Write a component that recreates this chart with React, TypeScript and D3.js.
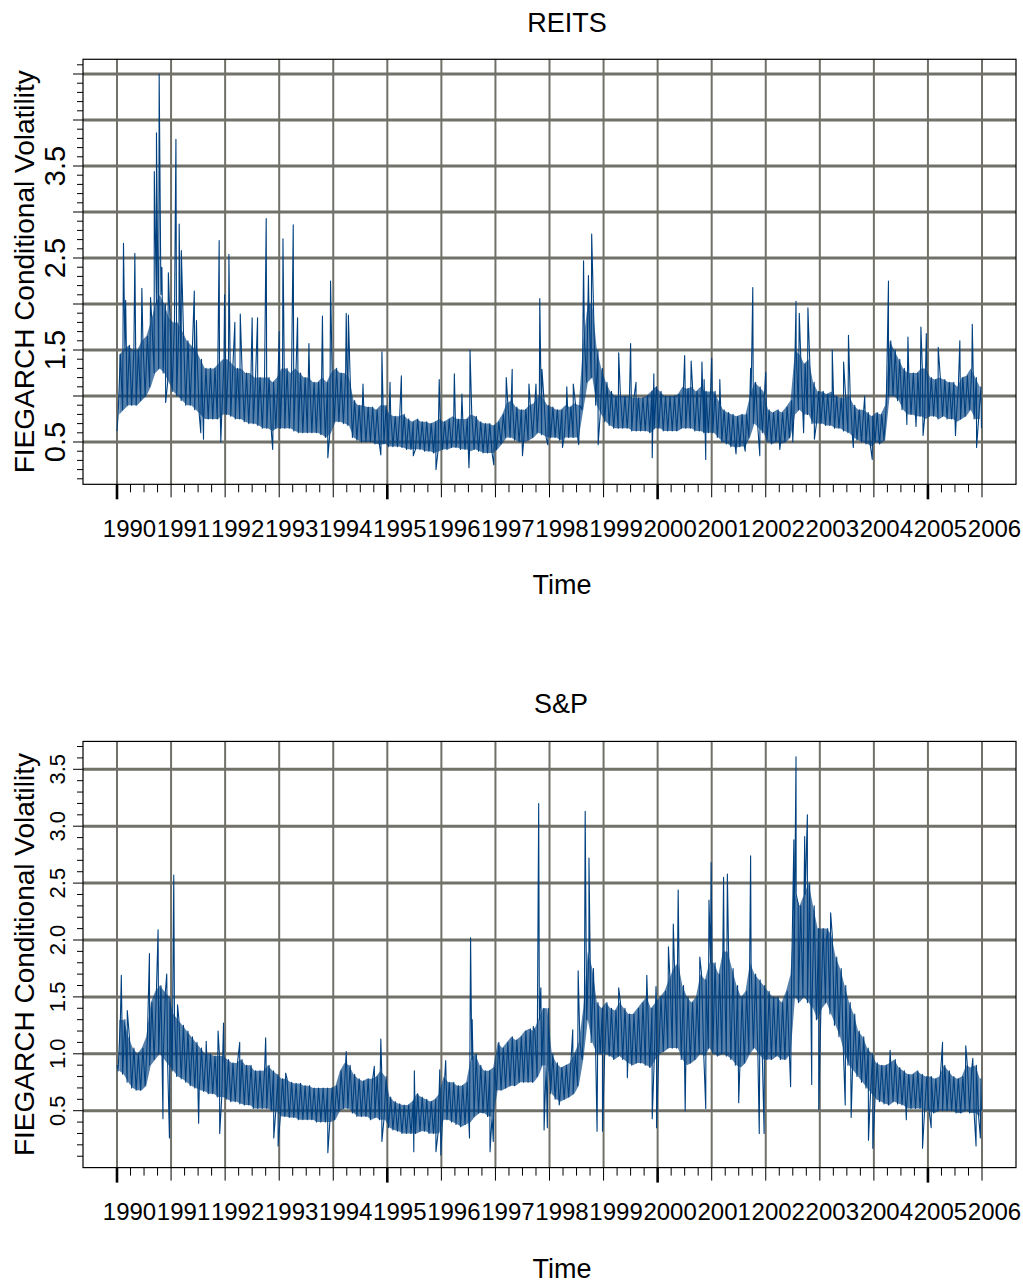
import React from 'react'
import * as d3 from 'd3'

// year tick labels on the time axis
const yearTicks = d3.range(1990, 2007)

// REITS: monthly band (low / high), one row per year 1990..2005
const reitsLo = [
  [0.8, 0.85, 0.9, 0.9, 0.9, 0.95, 1.0, 1.1, 1.25, 1.3, 1.25, 1.15],
  [1.05, 1.0, 0.95, 0.9, 0.9, 0.85, 0.8, 0.75, 0.75, 0.75, 0.75, 0.8],
  [0.8, 0.78, 0.75, 0.75, 0.72, 0.7, 0.7, 0.68, 0.65, 0.65, 0.62, 0.65],
  [0.65, 0.65, 0.65, 0.62, 0.6, 0.6, 0.6, 0.6, 0.6, 0.58, 0.55, 0.6],
  [0.72, 0.72, 0.7, 0.68, 0.55, 0.52, 0.5, 0.5, 0.5, 0.48, 0.47, 0.48],
  [0.45, 0.45, 0.45, 0.44, 0.42, 0.42, 0.42, 0.42, 0.4, 0.4, 0.38, 0.4],
  [0.42, 0.42, 0.44, 0.44, 0.42, 0.42, 0.4, 0.42, 0.4, 0.38, 0.38, 0.38],
  [0.42, 0.48, 0.55, 0.55, 0.52, 0.5, 0.5, 0.52, 0.55, 0.6, 0.58, 0.55],
  [0.55, 0.55, 0.52, 0.55, 0.55, 0.55, 0.55, 0.85, 1.15, 1.2, 0.9, 0.8],
  [0.72, 0.68, 0.65, 0.65, 0.65, 0.65, 0.62, 0.62, 0.62, 0.62, 0.6, 0.65],
  [0.65, 0.62, 0.62, 0.62, 0.62, 0.65, 0.65, 0.65, 0.62, 0.62, 0.6, 0.6],
  [0.6, 0.55, 0.5, 0.48, 0.45, 0.44, 0.45, 0.45, 0.55, 0.7, 0.65, 0.6],
  [0.5, 0.48, 0.5, 0.48, 0.5, 0.55, 0.8, 0.85, 0.8, 0.8, 0.7, 0.7],
  [0.7, 0.68, 0.68, 0.65, 0.65, 0.62, 0.6, 0.55, 0.52, 0.5, 0.48, 0.45],
  [0.5, 0.48, 0.52, 1.0, 1.0, 0.95, 0.85, 0.8, 0.8, 0.78, 0.78, 0.75],
  [0.78, 0.78, 0.75, 0.78, 0.75, 0.75, 0.72, 0.75, 0.78, 0.85, 0.75, 0.75],
]
const reitsHi = [
  [1.45, 1.5, 1.55, 1.5, 1.5, 1.6, 1.65, 1.8, 2.0, 2.1, 2.0, 1.85],
  [1.8, 1.8, 1.7, 1.6, 1.55, 1.5, 1.4, 1.3, 1.3, 1.3, 1.35, 1.4],
  [1.4, 1.35, 1.3, 1.3, 1.25, 1.25, 1.2, 1.2, 1.2, 1.2, 1.15, 1.2],
  [1.3, 1.3, 1.25, 1.3, 1.25, 1.2, 1.2, 1.15, 1.15, 1.2, 1.15, 1.25],
  [1.3, 1.25, 1.25, 1.2, 0.95, 0.9, 0.9, 0.88, 0.88, 0.85, 0.9, 0.9],
  [0.8, 0.78, 0.78, 0.8, 0.75, 0.72, 0.75, 0.72, 0.72, 0.7, 0.72, 0.75],
  [0.72, 0.75, 0.78, 0.75, 0.75, 0.75, 0.8, 0.78, 0.72, 0.7, 0.7, 0.68],
  [0.72, 0.8, 0.92, 0.95, 0.88, 0.85, 0.85, 0.9, 0.92, 1.0, 0.98, 0.9],
  [0.88, 0.85, 0.85, 0.9, 0.88, 0.92, 0.9, 1.6, 2.0, 2.0, 1.5, 1.3],
  [1.15, 1.05, 1.0, 1.0, 1.0, 1.0, 0.98, 0.98, 0.98, 1.0, 1.05, 1.1],
  [1.05, 1.0, 1.0, 1.0, 1.02, 1.1, 1.08, 1.1, 1.05, 1.1, 1.05, 1.05],
  [1.05, 0.95, 0.85, 0.82, 0.8, 0.78, 0.8, 0.8, 1.0, 1.15, 1.1, 1.05],
  [0.85, 0.82, 0.85, 0.82, 0.88, 0.95, 1.5, 1.45, 1.35, 1.4, 1.15, 1.05],
  [1.05, 1.02, 1.05, 1.0, 0.98, 0.98, 1.0, 0.9, 0.85, 0.85, 0.82, 0.78],
  [0.82, 0.8, 0.9, 1.6, 1.5, 1.4, 1.3, 1.25, 1.25, 1.25, 1.3, 1.3],
  [1.2, 1.18, 1.2, 1.18, 1.15, 1.15, 1.1, 1.2, 1.22, 1.3, 1.2, 1.1],
]
// REITS: isolated spikes and dips [time, value]
const reitsSpikes: [number, number][] = [
  [1990.0, 0.62], [1990.12, 2.66], [1990.16, 2.04], [1990.33, 2.55], [1990.46, 2.17],
  [1990.62, 2.07], [1990.69, 3.44], [1990.73, 3.86], [1990.78, 4.5], [1990.83, 2.4],
  [1990.9, 0.93], [1990.95, 2.34],
  [1991.09, 3.79], [1991.15, 2.87], [1991.19, 2.58], [1991.43, 2.14], [1991.47, 1.82],
  [1991.55, 0.6], [1991.6, 0.53], [1991.89, 2.69], [1991.92, 0.5], [1991.99, 2.1],
  [1992.07, 2.54], [1992.18, 1.8], [1992.28, 1.89], [1992.5, 1.85], [1992.6, 1.85],
  [1992.76, 2.93], [1992.88, 0.42], [1993.0, 1.7],
  [1993.07, 2.71], [1993.26, 2.86], [1993.34, 1.85], [1993.55, 1.57], [1993.8, 1.87],
  [1993.9, 0.33], [1993.95, 2.25],
  [1994.24, 1.9], [1994.28, 1.88], [1994.55, 1.13], [1994.88, 0.36], [1994.9, 1.48],
  [1995.05, 1.15], [1995.26, 1.22], [1995.48, 0.35], [1995.9, 0.2], [1995.96, 1.18],
  [1996.24, 1.24], [1996.38, 1.02], [1996.51, 0.22], [1996.53, 1.5], [1996.97, 0.25],
  [1997.2, 1.2], [1997.31, 1.29], [1997.5, 0.35], [1997.62, 1.13], [1997.75, 1.13],
  [1997.82, 2.06], [1997.86, 1.29], [1997.97, 0.47],
  [1998.24, 0.44], [1998.32, 1.1], [1998.44, 1.13], [1998.54, 0.47], [1998.63, 2.47],
  [1998.72, 2.31], [1998.78, 2.76], [1998.9, 0.47],
  [1999.28, 1.47], [1999.5, 1.57], [1999.6, 1.15], [1999.9, 0.33], [1999.93, 1.24],
  [2000.5, 1.44], [2000.62, 1.38], [2000.82, 1.37], [2000.86, 1.18], [2000.89, 0.31],
  [2001.0, 1.41], [2001.15, 1.18], [2001.45, 0.37], [2001.62, 0.4], [2001.72, 1.3],
  [2001.76, 2.18], [2001.89, 0.35], [2002.0, 1.26],
  [2002.26, 0.42], [2002.5, 0.5], [2002.56, 2.03], [2002.62, 1.9], [2002.7, 0.6],
  [2002.78, 1.96], [2002.9, 0.53],
  [2003.23, 1.5], [2003.44, 1.37], [2003.53, 1.66], [2003.62, 0.44], [2003.83, 1.0],
  [2003.97, 0.31],
  [2004.27, 2.25], [2004.61, 0.69], [2004.63, 1.64], [2004.78, 0.67], [2004.87, 1.75],
  [2004.91, 0.57], [2004.97, 1.68],
  [2005.19, 1.53], [2005.51, 0.57], [2005.59, 1.6], [2005.82, 1.78], [2005.9, 0.44],
  [2005.99, 0.65],
]

// S&P: monthly band (low / high), one row per year 1990..2005
const spLo = [
  [0.85, 0.82, 0.75, 0.7, 0.68, 0.68, 0.72, 0.9, 0.95, 1.0, 0.95, 0.9],
  [0.85, 0.8, 0.78, 0.75, 0.72, 0.7, 0.68, 0.67, 0.65, 0.65, 0.62, 0.62],
  [0.6, 0.58, 0.58, 0.56, 0.55, 0.55, 0.52, 0.52, 0.52, 0.52, 0.5, 0.5],
  [0.45, 0.45, 0.44, 0.44, 0.42, 0.42, 0.42, 0.42, 0.4, 0.4, 0.4, 0.4],
  [0.42, 0.5, 0.52, 0.52, 0.48, 0.45, 0.45, 0.45, 0.42, 0.44, 0.42, 0.42],
  [0.35, 0.33, 0.32, 0.3, 0.3, 0.3, 0.3, 0.32, 0.32, 0.3, 0.3, 0.3],
  [0.42, 0.42, 0.4, 0.38, 0.36, 0.38, 0.4, 0.45, 0.48, 0.48, 0.45, 0.45],
  [0.68, 0.68, 0.7, 0.72, 0.72, 0.75, 0.75, 0.75, 0.75, 0.8, 0.9, 0.9],
  [0.65, 0.6, 0.58, 0.6, 0.62, 0.65, 0.72, 0.95, 1.3, 1.1, 1.0, 1.0],
  [1.0, 0.98, 0.95, 0.98, 0.95, 0.92, 0.9, 0.92, 0.92, 0.9, 0.88, 0.95],
  [1.0, 1.02, 1.05, 1.05, 1.05, 0.95, 0.9, 0.92, 0.95, 1.0, 0.98, 1.05],
  [1.0, 0.98, 1.0, 0.98, 0.95, 0.9, 0.88, 0.92, 1.0, 1.05, 1.0, 0.95],
  [0.95, 0.95, 0.98, 0.95, 0.95, 1.0, 1.5, 1.45, 1.5, 1.45, 1.4, 1.3],
  [1.4, 1.45, 1.35, 1.25, 1.15, 1.0, 0.9, 0.85, 0.8, 0.75, 0.7, 0.65],
  [0.6, 0.58, 0.56, 0.55, 0.58, 0.56, 0.55, 0.52, 0.52, 0.52, 0.52, 0.5],
  [0.5, 0.48, 0.5, 0.5, 0.5, 0.5, 0.48, 0.48, 0.5, 0.48, 0.48, 0.45],
]
const spHi = [
  [1.3, 1.3, 1.15, 1.05, 1.0, 1.05, 1.15, 1.45, 1.55, 1.6, 1.55, 1.5],
  [1.35, 1.3, 1.25, 1.2, 1.15, 1.1, 1.05, 1.0, 1.0, 0.98, 0.98, 0.98],
  [0.95, 0.92, 0.92, 0.95, 0.9, 0.9, 0.85, 0.85, 0.85, 0.9, 0.85, 0.82],
  [0.78, 0.78, 0.75, 0.74, 0.74, 0.72, 0.72, 0.7, 0.7, 0.7, 0.7, 0.7],
  [0.72, 0.85, 0.92, 0.9, 0.82, 0.78, 0.76, 0.78, 0.78, 0.8, 0.85, 0.8],
  [0.62, 0.58, 0.56, 0.55, 0.55, 0.58, 0.65, 0.62, 0.6, 0.58, 0.6, 0.65],
  [0.8, 0.75, 0.75, 0.72, 0.72, 0.75, 0.95, 1.0, 0.9, 0.85, 0.85, 0.88],
  [1.1, 1.05, 1.1, 1.15, 1.12, 1.15, 1.2, 1.22, 1.2, 1.3, 1.4, 1.4],
  [1.0, 0.92, 0.88, 0.9, 0.92, 1.0, 1.1, 1.4, 1.9, 1.75, 1.45, 1.4],
  [1.45, 1.4, 1.38, 1.45, 1.4, 1.35, 1.35, 1.4, 1.45, 1.5, 1.4, 1.45],
  [1.5, 1.55, 1.65, 1.75, 1.8, 1.6, 1.5, 1.45, 1.5, 1.7, 1.65, 1.8],
  [1.8, 1.7, 1.9, 1.9, 1.75, 1.6, 1.5, 1.55, 1.8, 1.7, 1.65, 1.6],
  [1.55, 1.5, 1.5, 1.45, 1.55, 1.7, 2.4, 2.3, 2.4, 2.5, 2.3, 2.1],
  [2.1, 2.1, 2.05, 1.85, 1.75, 1.6, 1.45, 1.35, 1.2, 1.15, 1.05, 1.0],
  [0.92, 0.9, 0.9, 0.92, 0.95, 0.88, 0.85, 0.82, 0.82, 0.85, 0.82, 0.8],
  [0.8, 0.78, 0.8, 0.9, 0.85, 0.8, 0.78, 0.8, 0.9, 0.88, 0.9, 0.78],
]
const spSpikes: [number, number][] = [
  [1990.0, 0.9], [1990.08, 1.69], [1990.19, 1.38], [1990.6, 1.88], [1990.76, 2.09],
  [1990.85, 0.43], [1990.92, 1.7], [1990.97, 0.26],
  [1991.05, 2.57], [1991.12, 1.43], [1991.51, 0.39], [1991.65, 1.11], [1991.87, 1.2],
  [1991.9, 0.3], [1991.97, 1.27],
  [1992.27, 1.1], [1992.75, 1.14], [1992.9, 0.26], [1992.98, 0.19],
  [1993.12, 0.83], [1993.9, 0.13],
  [1994.24, 1.02], [1994.76, 0.89], [1994.88, 1.13], [1994.9, 0.23],
  [1995.49, 0.14], [1995.5, 0.85], [1995.9, 0.14], [1995.97, 0.86], [1995.99, 0.11],
  [1996.08, 0.94], [1996.52, 0.26], [1996.54, 2.02], [1996.57, 1.3], [1996.9, 0.14],
  [1996.96, 0.23],
  [1997.7, 1.24], [1997.8, 3.2], [1997.84, 1.58], [1997.9, 0.33], [1997.96, 0.35],
  [1998.18, 0.55], [1998.43, 1.21], [1998.53, 1.73], [1998.66, 3.13], [1998.73, 2.72],
  [1998.88, 0.32], [1998.98, 0.32],
  [1999.28, 1.58], [1999.44, 0.79], [1999.8, 1.69], [1999.9, 0.43], [1999.97, 1.59],
  [1999.98, 0.35],
  [2000.2, 1.94], [2000.29, 2.14], [2000.38, 2.44], [2000.51, 0.5], [2000.78, 1.85],
  [2000.89, 0.52], [2000.95, 2.35], [2000.99, 2.68],
  [2001.22, 2.55], [2001.29, 2.58], [2001.5, 0.57], [2001.72, 2.74], [2001.88, 0.3],
  [2001.97, 0.3],
  [2002.46, 0.71], [2002.52, 2.88], [2002.56, 3.61], [2002.6, 2.32], [2002.72, 2.91],
  [2002.77, 3.1], [2002.85, 0.73], [2002.98, 0.51],
  [2003.12, 1.98], [2003.2, 2.24], [2003.47, 0.55], [2003.58, 0.44], [2003.9, 0.24],
  [2003.98, 0.17],
  [2004.3, 1.03], [2004.6, 0.42], [2004.9, 0.17],
  [2005.06, 0.35], [2005.27, 1.1], [2005.7, 1.07], [2005.83, 0.96], [2005.89, 0.19],
  [2005.97, 0.26], [2005.99, 0.5],
]

const FONT = '"Liberation Sans", Arial, Helvetica, sans-serif'
const GRID = '#717169'
const LINE = '#00407f'

type Pt = [number, number]
type BandPt = { t: number; lo: number; hi: number }

function buildSeries(lo: number[][], hi: number[][], spikes: Pt[]) {
  const pts: Pt[] = []
  lo.forEach((row, yi) =>
    row.forEach((v, m) => {
      const t0 = 1990 + yi + m / 12
      pts.push([t0 + 0.25 / 12, v])
      pts.push([t0 + 0.75 / 12, hi[yi][m]])
    })
  )
  spikes.forEach(s => pts.push(s))
  pts.sort((a, b) => a[0] - b[0])
  return pts
}

function buildBand(lo: number[][], hi: number[][]): BandPt[] {
  const out: BandPt[] = []
  lo.forEach((row, yi) =>
    row.forEach((v, m) => out.push({ t: 1990 + yi + (m + 0.5) / 12, lo: v, hi: hi[yi][m] }))
  )
  return out
}

const x = d3.scaleLinear().domain([1990, 2006]).range([117, 982])
const BOX_L = 83
const BOX_R = 1016

type PanelProps = {
  title: string
  titleX: number
  dy: number
  y: d3.ScaleLinear<number, number>
  yMin: number
  yMax: number
  grid: number[]
  labels: number[]
  labelSize: number
  minorMax: number
  data: Pt[]
  band: BandPt[]
}

function Panel({ title, titleX, dy, y, yMin, yMax, grid, labels, labelSize, minorMax, data, band }: PanelProps) {
  const top = y(yMax)
  const bottom = y(yMin)
  const line = d3.line<Pt>().x(d => x(d[0])).y(d => y(d[1]))
  const area = d3.area<BandPt>().x(d => x(d.t)).y0(d => y(d.lo)).y1(d => y(d.hi))
  const minorY = d3.range(1, Math.round(minorMax * 10) + 1).map(i => i / 10)
  const quarters = d3.range(0, 64).map(i => 1990 + i / 4).filter(t => t % 1 !== 0)
  const midY = (top + bottom) / 2
  return (
    <g>
      <text x={titleX} y={32 + dy} fontSize={27} textAnchor="middle" fontFamily={FONT}>{title}</text>
      {/* grid */}
      {yearTicks.map(t => (
        <line key={'v' + t} x1={x(t)} x2={x(t)} y1={top} y2={bottom} stroke={GRID} strokeWidth={2} />
      ))}
      {grid.map(v => (
        <line key={'h' + v} x1={BOX_L} x2={BOX_R} y1={y(v)} y2={y(v)} stroke={GRID} strokeWidth={3} />
      ))}
      {/* series */}
      <path d={area(band) || ''} fill={LINE} fillOpacity={0.66} stroke="none" />
      <path d={line(data) || ''} fill="none" stroke={LINE} strokeWidth={1.1} strokeLinejoin="round" />
      <rect x={BOX_L} y={top} width={BOX_R - BOX_L} height={bottom - top} fill="none" stroke="#000" strokeWidth={1.2} />
      {/* y ticks */}
      {minorY.map(v => {
        const major = Math.abs(v * 2 - Math.round(v * 2)) < 1e-6
        return (
          <line key={'yt' + v} x1={BOX_L - (major ? 10 : 6)} x2={BOX_L} y1={y(v)} y2={y(v)} stroke="#000" strokeWidth={1} />
        )
      })}
      {labels.map(v => (
        <text key={'yl' + v} transform={`translate(65,${y(v)}) rotate(-90)`} fontSize={labelSize}
          textAnchor="middle" fontFamily={FONT}>{v.toFixed(1)}</text>
      ))}
      <text transform={`translate(34,${midY}) rotate(-90)`} fontSize={28} textAnchor="middle" fontFamily={FONT}>
        FIEGARCH Conditional Volatility
      </text>
      {/* x ticks */}
      {quarters.map(t => (
        <line key={'q' + t} x1={x(t)} x2={x(t)} y1={bottom} y2={bottom + 8} stroke="#000" strokeWidth={1} />
      ))}
      {yearTicks.map(t => {
        const big = (t - 1990) % 5 === 0
        return (
          <line key={'xt' + t} x1={x(t)} x2={x(t)} y1={bottom} y2={bottom + (big ? 15 : 13)} stroke="#000"
            strokeWidth={big ? 2.6 : 1} />
        )
      })}
      {yearTicks.map(t => (
        <text key={'xl' + t} x={x(t) + 12.5} y={bottom + 52.5} fontSize={24} textAnchor="middle" fontFamily={FONT}>
          {t}
        </text>
      ))}
      <text x={562} y={bottom + 110} fontSize={27} textAnchor="middle" fontFamily={FONT}>Time</text>
    </g>
  )
}

export default function App() {
  const reits = buildSeries(reitsLo, reitsHi, reitsSpikes)
  const sp = buildSeries(spLo, spHi, spSpikes)
  const reitsBand = buildBand(reitsLo, reitsHi)
  const spBand = buildBand(spLo, spHi)
  const yTop = d3.scaleLinear().domain([0.5, 4.5]).range([442, 74])
  const yBot = d3.scaleLinear().domain([0.5, 3.5]).range([1110.7, 769.3])
  return (
    <svg width={1023} height={1284} style={{ position: 'absolute', left: 0, top: 0, background: '#fff' }}>
      <rect width={1023} height={1284} fill="#fff" />
      <Panel title="REITS" titleX={567} dy={0} y={yTop} yMin={0.04} yMax={4.66}
        grid={[0.5, 1, 1.5, 2, 2.5, 3, 3.5, 4, 4.5]} labels={[0.5, 1.5, 2.5, 3.5]} labelSize={29}
        minorMax={4.6} data={reits} band={reitsBand} />
      <Panel title="S&P" titleX={561} dy={681} y={yBot} yMin={0} yMax={3.745}
        grid={[0.5, 1, 1.5, 2, 2.5, 3, 3.5]} labels={[0.5, 1, 1.5, 2, 2.5, 3, 3.5]} labelSize={22}
        minorMax={3.7} data={sp} band={spBand} />
    </svg>
  )
}
